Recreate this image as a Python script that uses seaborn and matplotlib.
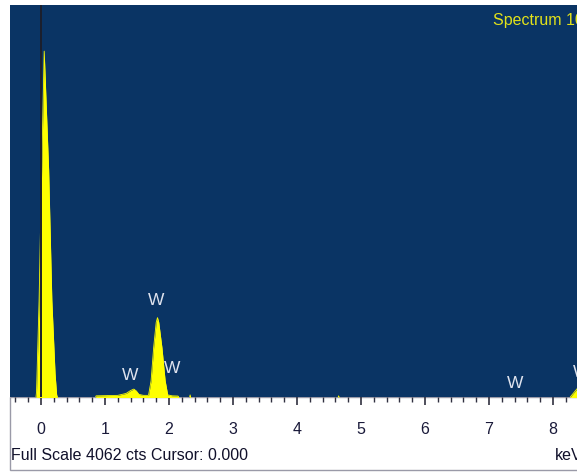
import matplotlib
matplotlib.use("Agg")
import matplotlib.pyplot as plt
import seaborn as sns
import pandas as pd
from matplotlib.patches import Rectangle
from matplotlib.ticker import MultipleLocator

# EDS spectrum outline (keV, counts)
energy_kev = [-0.49, -0.08, -0.07, -0.03, 0.01, 0.05, 0.12, 0.17, 0.22, 0.245, 0.26,
              0.85, 0.86, 1.00, 1.20, 1.33, 1.40, 1.45, 1.49, 1.53, 1.60, 1.68,
              1.72, 1.76, 1.80, 1.82, 1.84, 1.89, 1.94, 1.98, 2.05, 2.14, 2.16,
              2.32, 2.33, 2.34, 4.64, 4.65, 4.66, 8.26, 8.39, 8.50]
counts = [0, 0, 60, 1005, 2352, 3585, 2352, 1005, 250, 30, 0,
          0, 20, 22, 25, 45, 75, 90, 70, 35, 25, 25,
          176, 518, 780, 829, 780, 518, 176, 30, 20, 18, 0,
          0, 30, 0, 0, 20, 0, 0, 105, 300]

# peak labels (element, keV, counts)
label_text = ["W", "W", "W", "W", "W"]
label_kev = [1.80, 1.39, 2.05, 7.41, 8.44]
label_cts = [1005, 228, 300, 145, 259]

full_scale = 4062
cursor_kev = 0.0
major_ticks = [0, 1, 2, 3, 4, 5, 6, 7, 8]

BG = "#0a3464"
YELLOW = "#ffff00"
FS = 11.5

sns.set_theme(style="white")
plt.rcParams["font.family"] = ["Liberation Sans", "DejaVu Sans"]

W, H = 577, 472
fig = plt.figure(figsize=(W / 100, H / 100), dpi=100)
fig.patch.set_facecolor("white")

# white strip under the plot, with thin grey frame
fig.patches.append(Rectangle((10 / W, 2 / H), 570 / W, 73 / H, transform=fig.transFigure,
                             facecolor="white", edgecolor="#9a9aa8", lw=1.0, zorder=-5))

ax = fig.add_axes([10 / W, 75 / H, 567 / W, 392 / H])
ax.set_facecolor(BG)

df = pd.DataFrame({"keV": energy_kev, "cts": counts})
ax.fill_between(df["keV"], df["cts"], 0, color=YELLOW, lw=0, zorder=2)
sns.lineplot(data=df, x="keV", y="cts", color=YELLOW, lw=0.6, ax=ax, zorder=3,
             estimator=None, sort=False)

ax.axvline(cursor_kev, color="#1c1f2c", lw=1.4, zorder=4)

for t, xk, yc in zip(label_text, label_kev, label_cts):
    ax.text(xk, yc, t, color="#dfe3ee", fontsize=12.5, ha="center", va="center", zorder=5)

ax.set_xlim(-31 / 64, 536 / 64)
ax.set_ylim(8, full_scale)
ax.set_xticks(major_ticks)
ax.xaxis.set_minor_locator(MultipleLocator(0.2))
ax.set_yticks([])
ax.set_xlabel("")
ax.set_ylabel("")
for s in ax.spines.values():
    s.set_visible(False)
ax.tick_params(axis="x", which="major", bottom=True, direction="out", length=6, width=1.2,
               color="#303040", labelsize=FS, labelcolor="#1a1a3a", pad=12)
ax.tick_params(axis="x", which="minor", bottom=True, direction="out", length=3.5, width=1.0,
               color="#303040")

fig.text(493 / W, 1 - 21 / H, "Spectrum 10", color="#e2e21a", fontsize=FS, ha="left", va="center")
fig.text(11 / W, 1 - 456 / H, "Full Scale 4062 cts Cursor: 0.000", color="#10102a",
         fontsize=FS, ha="left", va="center")
fig.text(555 / W, 1 - 456 / H, "keV", color="#10102a", fontsize=FS, ha="left", va="center")

fig.savefig("out.png", dpi=100)
